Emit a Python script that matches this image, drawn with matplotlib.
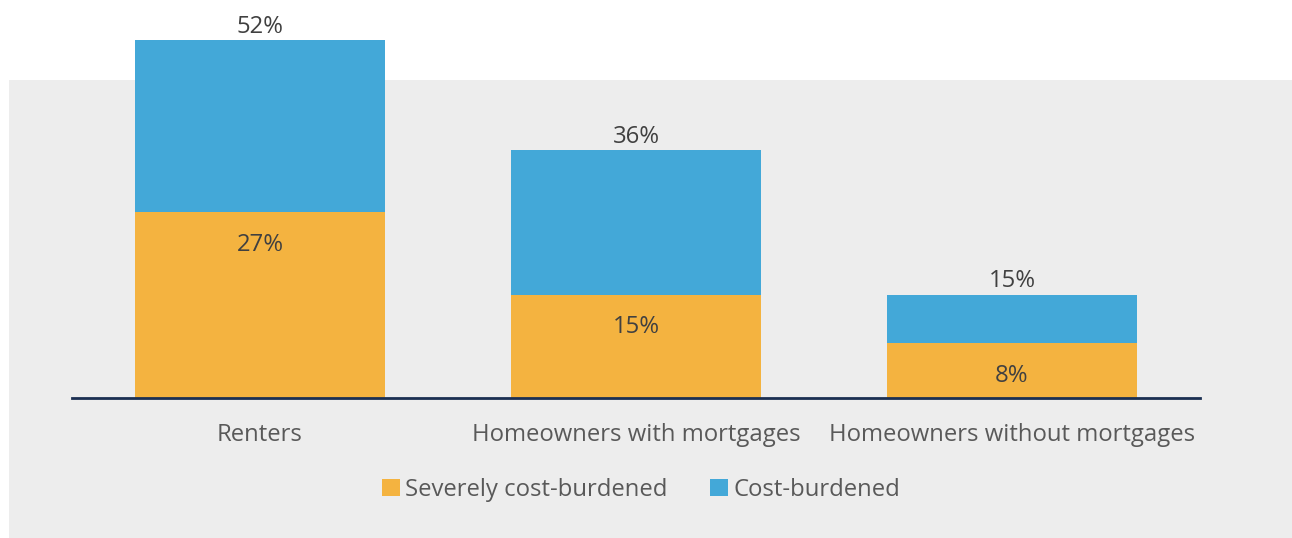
import matplotlib.pyplot as plt
from matplotlib.patches import Rectangle, Patch
import numpy as np

plt.rcParams['font.family'] = ['Open Sans', 'DejaVu Sans']

categories = ['Renters', 'Homeowners with mortgages', 'Homeowners without mortgages']
severe = [27, 15, 8]          # severely cost-burdened share
total = [52, 36, 15]          # total cost-burdened share
series_names = ['Severely cost-burdened', 'Cost-burdened']

orange = '#f4b340'
blue = '#43a8d8'
bg = '#ededed'
txt = '#404040'
lbl = '#595959'
fs = 17.2

fig = plt.figure(figsize=(12.92, 5.38), dpi=100)

# grey panel behind the plot
fig.patches.append(Rectangle((9 / 1292, 0), 1, (538 - 80) / 538,
                             transform=fig.transFigure, facecolor=bg,
                             edgecolor='none', zorder=0))

ax = fig.add_axes([72 / 1292, 140 / 538, 1128 / 1292, 398 / 538])
ax.set_facecolor('none')
ax.set_zorder(2)

x = np.arange(len(categories))
upper = [t - s for t, s in zip(total, severe)]
ax.bar(x, severe, width=0.665, color=orange, zorder=2)
ax.bar(x, upper, bottom=severe, width=0.665, color=blue, zorder=2)

for xi, s, t in zip(x, severe, total):
    ax.annotate(f'{t}%', (xi, t), xytext=(0, 1), textcoords='offset points',
                ha='center', va='bottom', fontsize=fs, color=txt)
    ax.annotate(f'{s}%', (xi, s), xytext=(0, -23.5), textcoords='offset points',
                ha='center', va='center', fontsize=fs, color=txt)

ax.set_xlim(-0.5, 2.5)
ax.set_ylim(0, 398 / 6.885)
ax.set_xticks(x)
ax.set_xticklabels(categories, fontsize=fs, color=lbl)
ax.tick_params(axis='x', length=0, pad=18)
ax.set_yticks([])
for side in ['top', 'left', 'right']:
    ax.spines[side].set_visible(False)
ax.spines['bottom'].set_color('#1b2f52')
ax.spines['bottom'].set_linewidth(2)

handles = [Patch(facecolor=orange), Patch(facecolor=blue)]
leg = fig.legend(handles, series_names, loc='center',
                 bbox_to_anchor=(641 / 1292, 1 - 490 / 538), ncol=2,
                 frameon=False, fontsize=fs, handlelength=0.75,
                 handleheight=0.75, handletextpad=0.2, columnspacing=1.8)
leg.set_zorder(3)
for t in leg.get_texts():
    t.set_color(lbl)

fig.savefig('out.png', dpi=100)
